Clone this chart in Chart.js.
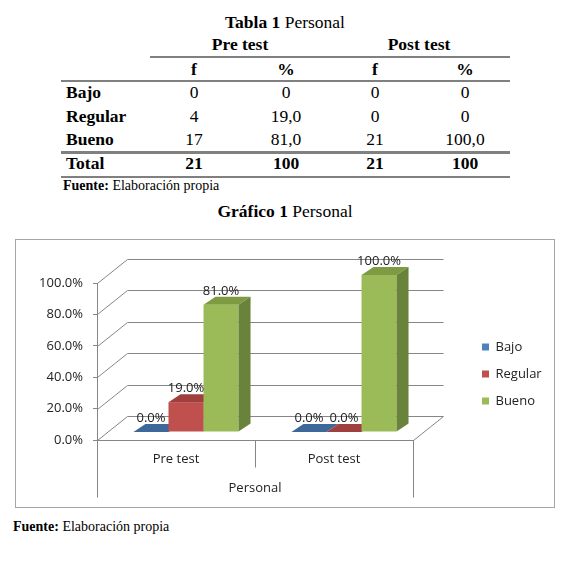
<!DOCTYPE html>
<html><head><meta charset="utf-8">
<script src="https://cdn.jsdelivr.net/npm/chart.js@4/dist/chart.umd.min.js"></script>
<style>
html,body{margin:0;padding:0;background:#fff;}
body{width:562px;height:561px;position:relative;overflow:hidden;font-family:"Liberation Serif","Times New Roman",serif;color:#000;}
.t{position:absolute;white-space:nowrap;line-height:1;transform:translate(-50%,-50%);font-size:17.5px;}
.l{transform:translate(0,-50%);}
.b{font-weight:bold;}
.hr{position:absolute;height:0;border-top:2px solid #808080;}
#box{position:absolute;left:15px;top:239px;width:538px;height:267px;border:1px solid #a6a6a6;}
canvas{display:block;}
</style></head>
<body>
<div class="t" style="left:285px;top:23px;"><b>Tabla 1</b> Personal</div>
<div class="t" style="left:285px;top:212px;"><b>Gráfico 1</b> Personal</div>
<div class="t l" style="left:63px;top:186px;font-size:14px;"><b>Fuente:</b> Elaboración propia</div>
<div class="t l" style="left:13px;top:527px;font-size:14px;"><b>Fuente:</b> Elaboración propia</div>
<div class="hr" style="left:150px;top:56px;width:360px;"></div>
<div class="hr" style="left:61px;top:80px;width:449px;"></div>
<div class="hr" style="left:61px;top:151px;width:449px;border-top-width:3px;"></div>
<div class="hr" style="left:61px;top:176px;width:449px;"></div>
<div id="tbl"></div>
<div id="box"><canvas id="c" width="538" height="267"></canvas></div>
<script>
// ---- table data ----
const groupHeaders = ['Pre test', 'Post test'];
const colHeaders = ['f', '%', 'f', '%'];
const rowLabels = ['Bajo', 'Regular', 'Bueno'];
const preF = ['0', '4', '17'];
const prePct = ['0', '19,0', '81,0'];
const postF = ['0', '0', '21'];
const postPct = ['0', '0', '100,0'];
const totalLabel = 'Total';
const totals = ['21', '100', '21', '100'];

// ---- chart data ----
const categories = ['Pre test', 'Post test'];
const seriesNames = ['Bajo', 'Regular', 'Bueno'];
const bajo = [0, 0];
const regular = [19, 0];
const bueno = [81, 100];
const yTickValues = [0, 20, 40, 60, 80, 100];
const axisTitle = 'Personal';

// ---- build table ----
(function () {
  const tbl = document.getElementById('tbl');
  const colX = [194, 286, 375, 465];
  const groupX = [240, 419];
  const rowY = [93, 117, 140];
  function put(text, x, y, bold, left) {
    const d = document.createElement('div');
    d.className = 't' + (bold ? ' b' : '') + (left ? ' l' : '');
    d.style.left = x + 'px'; d.style.top = y + 'px';
    d.textContent = text;
    tbl.appendChild(d);
  }
  groupHeaders.forEach((g, i) => put(g, groupX[i], 45, true));
  colHeaders.forEach((c, i) => put(c, colX[i], 70, true));
  rowLabels.forEach((r, i) => {
    put(r, 66, rowY[i], true, true);
    [preF, prePct, postF, postPct].forEach((col, j) => put(col[i], colX[j], rowY[i], false));
  });
  put(totalLabel, 66, 164, true, true);
  totals.forEach((v, j) => put(v, colX[j], 164, true));
})();

// ---- styles ----
const FRONT = ['#4F81BD', '#C0504D', '#9BBB59'];
const TOPC = ['#3E679A', '#A0403E', '#7E9B44'];
const SIDE = ['#335784', '#883634', '#6A833A'];
const LINE = '#868686';
const TXT = '#222222';
const FONT = '"Open Sans", "Noto Sans", sans-serif';
const WALL = { x: 30, y: -24 };
const BAR_OFF = { x: 10, y: -8 };
const BAR_D = { x: 12, y: -8 };

function poly(ctx, pts, color) {
  ctx.beginPath();
  ctx.moveTo(pts[0][0], pts[0][1]);
  for (let i = 1; i < pts.length; i++) ctx.lineTo(pts[i][0], pts[i][1]);
  ctx.closePath();
  ctx.fillStyle = color;
  ctx.fill();
}

const threeD = {
  id: 'threeD',
  afterLayout(chart) {
    const lg = chart.legend;
    const ca = chart.chartArea;
    if (!lg) return;
    const w = lg.width;
    lg.left = ca.right + 55;
    lg.right = lg.left + w;
    lg.top = ca.top + 43.5;
    lg.bottom = lg.top + 200;
  },
  beforeDatasetsDraw(chart) {
    const { ctx, chartArea: ca, scales } = chart;
    const xs = scales.x, ys = scales.y;
    ctx.save();
    ctx.strokeStyle = LINE;
    ctx.lineWidth = 1;
    const L = Math.round(ca.left) + 0.5, R = Math.round(ca.right) + 0.5, B = Math.round(ca.bottom) + 0.5;
    // walls (side + back) gridlines
    ys.ticks.forEach(t => {
      const py = Math.round(ys.getPixelForValue(t.value)) + 0.5;
      ctx.beginPath();
      ctx.moveTo(L, py);
      ctx.lineTo(L + WALL.x, py + WALL.y);
      ctx.lineTo(R + WALL.x, py + WALL.y);
      ctx.stroke();
    });
    // floor right edge
    ctx.beginPath();
    ctx.moveTo(R, B);
    ctx.lineTo(R + WALL.x, B + WALL.y);
    ctx.stroke();
    // category separators
    const mids = [];
    for (let i = 0; i < xs.ticks.length - 1; i++) {
      mids.push((xs.getPixelForTick(i) + xs.getPixelForTick(i + 1)) / 2);
    }
    ctx.beginPath();
    [L, R].forEach(x => { ctx.moveTo(x, B); ctx.lineTo(x, B + 57); });
    mids.forEach(m => { const x = Math.round(m) + 0.5; ctx.moveTo(x, B); ctx.lineTo(x, B + 27); });
    ctx.stroke();

    // 3D bars
    const nCat = chart.data.labels.length;
    const labels = [];
    for (let i = 0; i < nCat; i++) {
      chart.data.datasets.forEach((ds, di) => {
        const el = chart.getDatasetMeta(di).data[i];
        const p = el.getProps(['x', 'y', 'base', 'width'], true);
        const l = p.x - p.width / 2 + BAR_OFF.x, r = p.x + p.width / 2 + BAR_OFF.x;
        const t = p.y + BAR_OFF.y, b = p.base + BAR_OFF.y;
        ctx.fillStyle = FRONT[di];
        ctx.fillRect(l, t, r - l, b - t);
        poly(ctx, [[l, t], [r, t], [r + BAR_D.x, t + BAR_D.y], [l + BAR_D.x, t + BAR_D.y]], TOPC[di]);
        poly(ctx, [[r, t], [r + BAR_D.x, t + BAR_D.y], [r + BAR_D.x, b + BAR_D.y], [r, b]], SIDE[di]);
        labels.push({ x: (l + r) / 2, y: t - 14, text: ds.data[i].toFixed(1) + '%' });
      });
    }
    // data labels
    ctx.fillStyle = TXT;
    ctx.font = '13px ' + FONT;
    ctx.textAlign = 'center';
    ctx.textBaseline = 'middle';
    labels.forEach(lb => ctx.fillText(lb.text, lb.x, lb.y));
    ctx.restore();
    return false;
  }
};

new Chart(document.getElementById('c'), {
  type: 'bar',
  data: {
    labels: categories,
    datasets: [
      { label: seriesNames[0], data: bajo, backgroundColor: FRONT[0] },
      { label: seriesNames[1], data: regular, backgroundColor: FRONT[1] },
      { label: seriesNames[2], data: bueno, backgroundColor: FRONT[2] }
    ]
  },
  options: {
    responsive: false,
    animation: false,
    events: [],
    layout: { padding: { left: 0, right: 141, top: 43, bottom: 0 } },
    datasets: { bar: { barPercentage: 1, categoryPercentage: 0.665 } },
    plugins: {
      tooltip: { enabled: false },
      legend: {
        position: 'chartArea',
        align: 'start',
        labels: {
          boxWidth: 7, boxHeight: 7, padding: 14,
          color: TXT, font: { family: FONT, size: 13 }
        }
      }
    },
    scales: {
      x: {
        type: 'category',
        grid: { display: true, drawOnChartArea: false, drawTicks: false, color: LINE, offset: true },
        border: { display: true, color: LINE },
        ticks: { color: TXT, font: { family: FONT, size: 13 }, padding: 11 },
        title: { display: true, text: axisTitle, color: TXT, font: { family: FONT, size: 13 }, padding: { top: 0, bottom: 11 } },
        afterFit: s => { s.height = 67; }
      },
      y: {
        min: 0, max: 100,
        afterBuildTicks: s => { s.ticks = yTickValues.map(v => ({ value: v })); },
        grid: { display: true, drawOnChartArea: false, drawTicks: true, tickLength: 4, color: LINE },
        border: { display: true, color: LINE },
        ticks: { color: TXT, font: { family: FONT, size: 13 }, padding: 10, callback: v => Number(v).toFixed(1) + '%' },
        afterFit: s => { s.width = 81; }
      }
    }
  },
  plugins: [threeD]
});
</script>
</body></html>
